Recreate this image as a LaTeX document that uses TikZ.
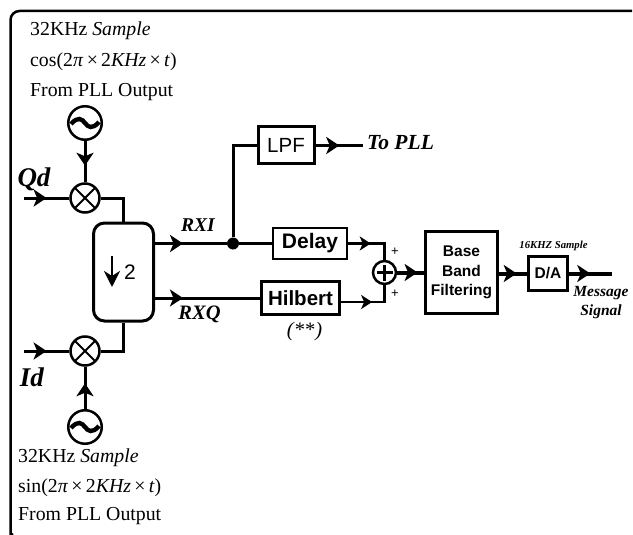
\documentclass[tikz,border=0pt]{standalone}
\usepackage{fontspec}
\setmainfont{Liberation Serif}
\setsansfont{Liberation Sans}
\usetikzlibrary{arrows.meta,decorations.markings}
\tikzset{
wire/.style={draw,line width=3pt,line join=miter},
thinwire/.style={draw,line width=2.6pt},
fatwire/.style={draw,line width=4pt},
tip/.style={postaction={decorate},decoration={markings,mark=at position #1 with {\arrow{Stealth[length=13pt,width=17pt,inset=3.5pt]}}}},
smalltip/.style={postaction={decorate},decoration={markings,mark=at position #1 with {\arrow{Stealth[length=11pt,width=14pt,inset=3pt]}}}},
osc/.style={circle,draw,line width=2.5pt,minimum size=33.5pt,inner sep=0pt,path picture={
\draw[line width=4.4pt] (-14pt,-1pt) .. controls (-7pt,7pt) and (-3pt,4pt) .. (0pt,0pt) .. controls (3pt,-4pt) and (7pt,-7pt) .. (14pt,1pt);}},
mix/.style={circle,draw,line width=2.5pt,minimum size=29pt,inner sep=0pt,path picture={
\draw[line width=1.8pt] (-10pt,-10pt) -- (10pt,10pt) (-10pt,10pt) -- (10pt,-10pt);}},
sum/.style={circle,draw,line width=2.5pt,minimum size=23pt,inner sep=0pt,path picture={
\draw[line width=2.2pt] (-8pt,0pt) -- (8pt,0pt) (0pt,-8pt) -- (0pt,8pt);}},
block/.style={rectangle,draw,line width=2.2pt,inner sep=0pt},
note/.style={anchor=west,inner sep=0pt,font=\fontsize{19.8}{19.8}\selectfont},
tag/.style={inner sep=0pt}
}
\begin{document}
\begin{tikzpicture}[x=1pt,y=-1pt]
\useasboundingbox (0,0) rectangle (633,535);
\draw[line width=2.5pt,rounded corners=9pt] (632,11) -- (10.5,11) -- (10.5,529) .. controls (10.5,532) and (11.5,534) .. (13,535);
\node[note] (t1) at (30,31) {32KHz \textit{Sample}};
\node[note] (t2) at (30,62) {cos(2\textit{π}\,×\,2\textit{KHz}\,×\,\textit{t})};
\node[note] (t3) at (30,92) {From PLL Output};
\node[note] (b1) at (18,458) {32KHz \textit{Sample}};
\node[note] (b2) at (18,488) {sin(2\textit{π}\,×\,2\textit{KHz}\,×\,\textit{t})};
\node[note] (b3) at (18,516) {From PLL Output};
\node[osc] (qosc) at (85,123) {};
\node[osc] (iosc) at (85,427) {};
\node[mix] (qmix) at (85,198) {};
\node[mix] (imix) at (85,351) {};
\node[rectangle,draw,line width=3pt,rounded corners=11pt,minimum width=60pt,minimum height=98pt,inner sep=0pt] (dtwo) at (123.5,272) {};
\node[inner sep=0pt,font=\sffamily\fontsize{21}{21}\selectfont] (dtwolab) at (130,272) {2};
\coordinate (dtwoa) at (112,256);
\coordinate (dtwob) at (112,287);
\node[circle,fill=black,inner sep=0pt,minimum size=12pt] (dot) at (233,243.5) {};
\node[block,line width=3pt,minimum width=56pt,minimum height=37pt,font=\sffamily\fontsize{20.5}{20.5}\selectfont] (lpf) at (286,145.5) {LPF};
\node[block,minimum width=74pt,minimum height=31pt,font=\sffamily\bfseries\fontsize{21}{21}\selectfont] (delay) at (310,243.5) {Delay};
\node[block,minimum width=78pt,minimum height=33pt,font=\sffamily\bfseries\fontsize{20.5}{20.5}\selectfont] (hilb) at (300.5,298) {Hilbert};
\node[sum] (add) at (384.5,272.5) {};
\node[block,minimum width=72pt,minimum height=82pt,align=center,font=\sffamily\bfseries\fontsize{15.5}{19.5}\selectfont] (base) at (461.5,272.5) {Base\\Band\\Filtering};
\node[block,minimum width=39pt,minimum height=34pt,font=\sffamily\bfseries\fontsize{15.5}{15.5}\selectfont] (da) at (548,273.5) {D/A};
\coordinate (qin) at (24,198);
\coordinate (iin) at (24,351);
\coordinate (out) at (612,273.5);
\coordinate (topll) at (363,145.5);
\coordinate (hilbout) at (345,302);
\path[wire,tip=.6] (qosc) -- (qmix);
\path[wire,tip=.61] (iosc) -- (imix);
\path[wire,tip=.5] (qin) -- (qmix);
\path[wire,tip=.5] (iin) -- (imix);
\path[wire] (qmix) -| (dtwo.north);
\path[wire] (imix) -| (dtwo.south);
\path[line width=2.8pt,draw,-{Stealth[length=16pt,width=16pt,inset=5pt]}] (dtwoa) -- (dtwob);
\path[wire,tip=.39] (dtwo.east |- dot) -- (dot);
\path[wire] (dot) -- (delay);
\path[wire] (dot) |- (lpf);
\path[wire,tip=.5] (lpf) -- (topll);
\path[wire,tip=.265] (dtwo.east |- hilb) -- (hilb);
\path[thinwire,smalltip=.43] (delay) -| (add);
\path[thinwire,smalltip=.52] (hilb.east |- hilbout) -| (add);
\path[fatwire,tip=.75] (add) -- (base);
\path[fatwire,tip=.63] (base.east |- da) -- (da);
\path[fatwire,tip=.5] (da) -- (out);
\node[tag,font=\bfseries\itshape\fontsize{27}{27}\selectfont] (qd) at (34,179) {Qd};
\node[tag,font=\bfseries\itshape\fontsize{27}{27}\selectfont] (id) at (32,377) {Id};
\node[tag,font=\bfseries\itshape\fontsize{19.5}{19.5}\selectfont] (rxi) at (198,225) {RXI};
\node[tag,font=\bfseries\itshape\fontsize{20.5}{20.5}\selectfont] (rxq) at (199.5,314) {RXQ};
\node[tag,anchor=west,font=\bfseries\itshape\fontsize{21.5}{21.5}\selectfont] (pll) at (367,143) {To PLL};
\node[tag,font=\fontsize{20.5}{20.5}\selectfont] (star) at (304.5,332) {\textit{(}**\textit{)}};
\node[tag,font=\sffamily\fontsize{13}{13}\selectfont] (p1) at (395,252) {+};
\node[tag,font=\sffamily\fontsize{13}{13}\selectfont] (p2) at (395,294) {+};
\node[tag,font=\bfseries\itshape\fontsize{10.7}{10.7}\selectfont] (rate) at (553.5,246) {16KHZ Sample};
\node[tag,align=center,font=\bfseries\itshape\fontsize{15.5}{19}\selectfont] (msg) at (601,303) {Message\\Signal};
\end{tikzpicture}
\end{document}
